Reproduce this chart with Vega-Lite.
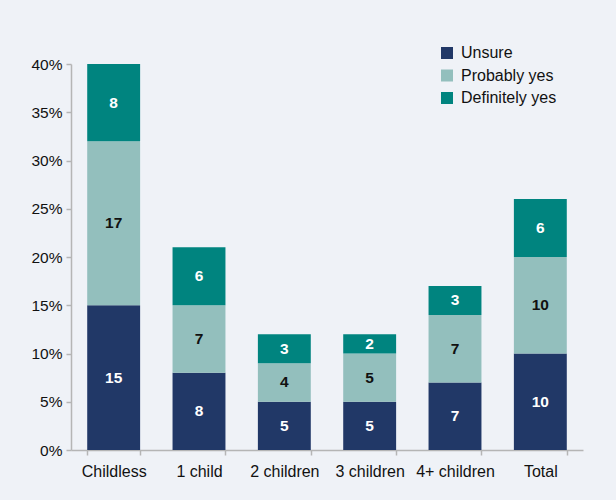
{
  "$schema": "https://vega.github.io/schema/vega-lite/v6.json",
  "width": 512,
  "height": 386,
  "autosize": "none",
  "padding": {"left": 71, "top": 64, "right": 33, "bottom": 50},
  "background": "#eff2f7",
  "config": {
    "view": {"stroke": null},
    "font": "Liberation Sans, Arial, sans-serif"
  },
  "data": {
    "values": [
      {"group": "Childless", "answer": "Unsure", "value": 15, "order": 1},
      {"group": "Childless", "answer": "Probably yes", "value": 17, "order": 2},
      {"group": "Childless", "answer": "Definitely yes", "value": 8, "order": 3},
      {"group": "1 child", "answer": "Unsure", "value": 8, "order": 1},
      {"group": "1 child", "answer": "Probably yes", "value": 7, "order": 2},
      {"group": "1 child", "answer": "Definitely yes", "value": 6, "order": 3},
      {"group": "2 children", "answer": "Unsure", "value": 5, "order": 1},
      {"group": "2 children", "answer": "Probably yes", "value": 4, "order": 2},
      {"group": "2 children", "answer": "Definitely yes", "value": 3, "order": 3},
      {"group": "3 children", "answer": "Unsure", "value": 5, "order": 1},
      {"group": "3 children", "answer": "Probably yes", "value": 5, "order": 2},
      {"group": "3 children", "answer": "Definitely yes", "value": 2, "order": 3},
      {"group": "4+ children", "answer": "Unsure", "value": 7, "order": 1},
      {"group": "4+ children", "answer": "Probably yes", "value": 7, "order": 2},
      {"group": "4+ children", "answer": "Definitely yes", "value": 3, "order": 3},
      {"group": "Total", "answer": "Unsure", "value": 10, "order": 1},
      {"group": "Total", "answer": "Probably yes", "value": 10, "order": 2},
      {"group": "Total", "answer": "Definitely yes", "value": 6, "order": 3}
    ]
  },
  "transform": [
    {"stack": "value", "groupby": ["group"], "sort": [{"field": "order", "order": "ascending"}], "as": ["v0", "v1"]},
    {"calculate": "(datum.v0 + datum.v1) / 2", "as": "mid"}
  ],
  "encoding": {
    "x": {
      "field": "group",
      "type": "nominal",
      "sort": ["Childless", "1 child", "2 children", "3 children", "4+ children", "Total"],
      "scale": {"paddingInner": 0.38, "paddingOuter": 0.19},
      "axis": {
        "title": null,
        "labelAngle": 0,
        "labelFontSize": 16,
        "labelColor": "#111111",
        "labelPadding": 8,
        "tickBand": "extent",
        "tickSize": 5,
        "tickColor": "#b5b5b5",
        "tickWidth": 1.5,
        "domainColor": "#b5b5b5",
        "domainWidth": 1.5
      }
    }
  },
  "layer": [
    {
      "mark": {"type": "bar"},
      "encoding": {
        "y": {
          "field": "v0",
          "type": "quantitative",
          "scale": {"domain": [0, 40], "nice": false},
          "axis": {
            "title": null,
            "values": [0, 5, 10, 15, 20, 25, 30, 35, 40],
            "labelExpr": "datum.value + '%'",
            "labelFontSize": 15.5,
            "labelColor": "#111111",
            "labelPadding": 4,
            "tickSize": 5,
            "tickColor": "#b5b5b5",
            "tickWidth": 1.5,
            "domainColor": "#b5b5b5",
            "domainWidth": 1.5,
            "grid": false
          }
        },
        "y2": {"field": "v1"},
        "color": {
          "field": "answer",
          "type": "nominal",
          "scale": {
            "domain": ["Unsure", "Probably yes", "Definitely yes"],
            "range": ["#213867", "#93bfbd", "#00847f"]
          },
          "legend": {
            "title": null,
            "orient": "none",
            "legendX": 368,
            "legendY": -19,
            "symbolType": "square",
            "symbolSize": 144,
            "symbolStrokeWidth": 0,
            "symbolOpacity": 1,
            "labelFontSize": 16,
            "labelColor": "#111111",
            "labelOffset": 6,
            "rowPadding": 6.5
          }
        }
      }
    },
    {
      "mark": {"type": "text", "fontSize": 15.5, "fontWeight": "bold"},
      "encoding": {
        "y": {"field": "mid", "type": "quantitative"},
        "text": {"field": "value", "type": "quantitative"},
        "color": {
          "condition": {"test": "datum.answer === 'Probably yes'", "value": "#111111"},
          "value": "#ffffff"
        }
      }
    }
  ]
}
